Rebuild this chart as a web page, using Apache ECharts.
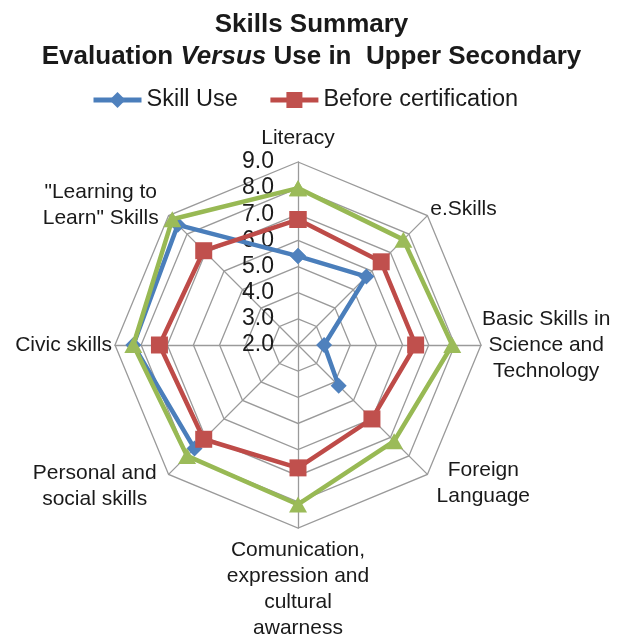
<!DOCTYPE html>
<html>
<head>
<meta charset="utf-8">
<title>Skills Summary</title>
<script src="https://cdn.jsdelivr.net/npm/echarts@6/dist/echarts.min.js"></script>
<style>
  html, body { margin: 0; padding: 0; background: #fff; }
  #chart { width: 623px; height: 639px; }
</style>
</head>
<body>
<div id="chart"></div>
<script>
// skills, clockwise from the top
var skills = [
  'Literacy',
  'e.Skills',
  'Basic Skills in\nScience and\nTechnology',
  'Foreign\nLanguage',
  'Comunication,\nexpression and\ncultural\nawarness',
  'Personal and\nsocial skills',
  'Civic skills',
  '"Learning to\nLearn" Skills'
];
var skillUse   = [5.4, 5.7, 3.0, 4.2, null, 7.6, 8.3, 8.5];
var beforeCert = [6.8, 6.5, 6.5, 6.0, 6.7, 7.1, 7.3, 7.1];
var afterCert  = [8.0, 7.7, 7.9, 7.2, 8.1, 8.0, 8.3, 8.8];
var scaleMin = 2;
var scaleMax = 9;

// where each skill name sits (same clockwise order)
var nameLayout = [
  { gap: 24, align: 'center', va: 'middle' },
  { gap: 4,  align: 'left',   va: 'middle', padding: [0, 0, 8, 0] },
  { gap: 1,  align: 'left',   va: 'middle' },
  { gap: 13, align: 'left',   va: 'middle' },
  { gap: 9,  align: 'center', va: 'top' },
  { gap: 17, align: 'right',  va: 'middle' },
  { gap: 3,  align: 'right',  va: 'middle' },
  { gap: 14, align: 'right',  va: 'middle' }
];

var FONT = '"Liberation Sans", Arial, sans-serif';
var CENTER = [298, 345];
var RADIUS = 183;

// radar runs counter-clockwise, so feed it the skills in reverse after the first
var order = [0];
for (var i = skills.length - 1; i > 0; i--) order.push(i);
var indicators = order.map(function (k) {
  var lay = nameLayout[k];
  var ind = {
    name: skills[k],
    min: scaleMin,
    max: scaleMax,
    nameGap: lay.gap,
    nameTextStyle: { align: lay.align, verticalAlign: lay.va, padding: lay.padding || 0 }
  };
  if (k === 0) ind.axisLabel = { show: true };
  return ind;
});

// series go on a polar system laid over the radar, so the missing value leaves a gap
function toPolar(values) {
  var step = 360 / values.length;
  var pts = values.map(function (v, i) {
    return [v == null ? '-' : v, i * step];
  });
  pts.push([values[0], 360]);
  return pts;
}

var chart = echarts.init(document.getElementById('chart'));
var option = {
  animation: false,
  textStyle: { fontFamily: FONT },
  title: {
    text: '{b|Skills Summary}\n{b|Evaluation }{i|Versus}{b| Use in  Upper Secondary}',
    left: 'center',
    top: 4,
    textStyle: {
      rich: {
        b: { fontSize: 26, fontWeight: 'bold', lineHeight: 32, color: '#1a1a1a', fontFamily: FONT },
        i: { fontSize: 26, fontWeight: 'bold', fontStyle: 'italic', lineHeight: 32, color: '#1a1a1a', fontFamily: FONT }
      }
    }
  },
  legend: {
    data: ['Skill Use', 'Before certification'],
    top: 83,
    left: 86,
    itemWidth: 48,
    itemHeight: 20,
    itemGap: 30,
    lineStyle: { width: 5 },
    textStyle: { fontSize: 23.5, color: '#1a1a1a', fontFamily: FONT }
  },
  radar: {
    center: CENTER,
    radius: RADIUS,
    startAngle: 90,
    shape: 'polygon',
    splitNumber: scaleMax - scaleMin,
    indicator: indicators,
    axisName: {
      color: '#1a1a1a',
      fontSize: 21,
      fontFamily: FONT,
      formatter: function (name) {
        return name.split('\n').map(function (s) { return '{c|' + s + '}'; }).join('\n');
      },
      rich: {
        c: { align: 'center', fontSize: 21, lineHeight: 26, color: '#1a1a1a', fontFamily: FONT }
      }
    },
    axisLine: { lineStyle: { color: '#9a9a9a', width: 1.3 } },
    splitLine: { lineStyle: { color: '#9a9a9a', width: 1.3 } },
    splitArea: { show: false },
    axisTick: { show: false },
    axisLabel: {
      show: false,
      fontSize: 23,
      color: '#1a1a1a',
      fontFamily: FONT,
      margin: 24,
      formatter: function (v) { return (+v).toFixed(1); }
    }
  },
  polar: { center: CENTER, radius: RADIUS },
  angleAxis: {
    type: 'value', min: 0, max: 360, startAngle: 90, clockwise: true,
    show: false, axisLine: { show: false }, axisTick: { show: false },
    axisLabel: { show: false }, splitLine: { show: false }
  },
  radiusAxis: {
    type: 'value', min: scaleMin, max: scaleMax,
    show: false, axisLine: { show: false }, axisTick: { show: false },
    axisLabel: { show: false }, splitLine: { show: false }
  },
  series: [
    {
      name: 'Skill Use',
      type: 'line',
      coordinateSystem: 'polar',
      data: toPolar(skillUse),
      symbol: 'diamond',
      symbolSize: 16,
      lineStyle: { width: 4.5, color: '#4a7ebb' },
      itemStyle: { color: '#4f81bd' },
      z: 2
    },
    {
      name: 'Before certification',
      type: 'line',
      coordinateSystem: 'polar',
      data: toPolar(beforeCert),
      symbol: 'rect',
      symbolSize: 17,
      lineStyle: { width: 4.5, color: '#be4b48' },
      itemStyle: { color: '#c0504d' },
      z: 3
    },
    {
      name: 'After certification',
      type: 'line',
      coordinateSystem: 'polar',
      data: toPolar(afterCert),
      symbol: 'triangle',
      symbolSize: [18, 16],
      lineStyle: { width: 4.5, color: '#98b954' },
      itemStyle: { color: '#9bbb59' },
      z: 4
    }
  ]
};
chart.setOption(option);
</script>
</body>
</html>
